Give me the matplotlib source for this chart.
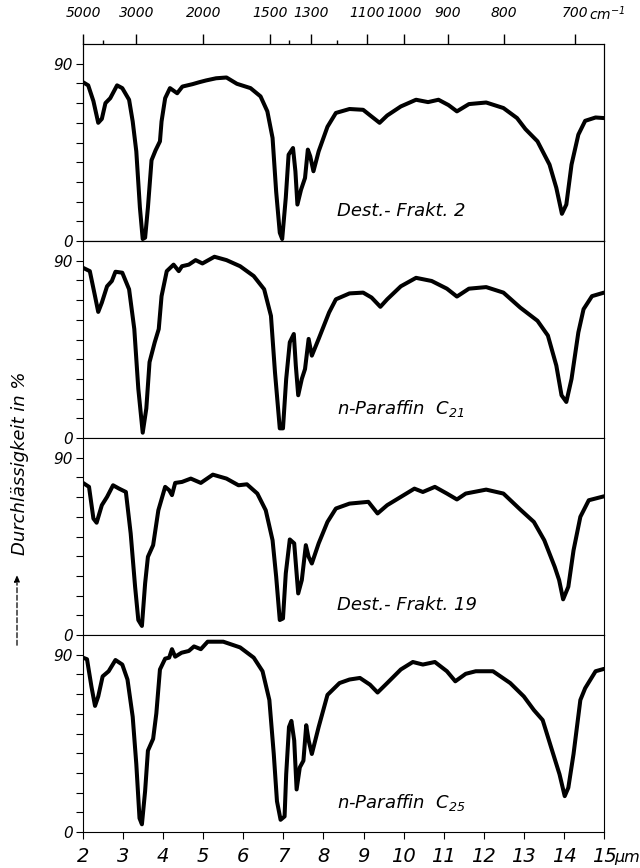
import numpy as np
import matplotlib
matplotlib.use("Agg")
import matplotlib.pyplot as plt

FONT = ["Liberation Sans Narrow", "DejaVu Sans"]
plt.rcParams["font.family"] = FONT
plt.rcParams["font.style"] = "italic"
plt.rcParams["mathtext.fontset"] = "custom"
plt.rcParams["mathtext.rm"] = "Liberation Sans Narrow:italic"
plt.rcParams["mathtext.it"] = "Liberation Sans Narrow:italic"

# --- spectra (wavelength um, transmission %) -----------------------------------
wl1 = [2.00, 2.13, 2.26, 2.38, 2.47, 2.56, 2.68, 2.85, 2.98, 3.15, 3.24, 3.33, 3.42, 3.49,
       3.55, 3.62, 3.71, 3.81, 3.92, 3.96, 4.05, 4.17, 4.35, 4.48, 4.73, 4.90, 5.07, 5.32,
       5.58, 5.84, 6.18, 6.43, 6.60, 6.73, 6.82, 6.91, 6.97, 7.06, 7.13, 7.24, 7.30, 7.35,
       7.44, 7.54, 7.61, 7.67, 7.75, 7.88, 8.10, 8.31, 8.65, 8.99, 9.20, 9.40, 9.59, 9.93,
       10.31, 10.61, 10.87, 11.12, 11.33, 11.63, 12.06, 12.49, 12.83, 13.04, 13.34, 13.64,
       13.81, 13.95, 14.06, 14.19, 14.36, 14.53, 14.79, 15.00]
t1 = [80.6, 79, 71, 60, 62, 70, 72.5, 79, 77.6, 71.7, 60.7, 45.5, 16.9, 1,
      1.7, 17, 41, 46, 50.6, 60.7, 72.5, 77.6, 75, 78.4, 79.6, 80.6, 81.5, 82.6,
      83, 79.8, 77.6, 73.4, 65.8, 52.3, 25, 4.2, 1, 22, 43.8, 47.2, 35.4, 18.5,
      26, 32, 46.4, 43, 35.4, 45.5, 58, 65, 67, 66.6, 63.2, 60, 63.7, 68.3,
      71.7, 70.5, 71.7, 69, 65.8, 69.5, 70.3, 67.5, 62.4, 56.8, 50.6, 38.8,
      27, 13.8, 18.5, 38.8, 54, 61, 62.7, 62.4]

wl2 = [2.00, 2.17, 2.30, 2.38, 2.47, 2.60, 2.72, 2.81, 2.98, 3.15, 3.28, 3.38, 3.49, 3.58,
       3.66, 3.79, 3.89, 3.96, 4.09, 4.26, 4.39, 4.47, 4.64, 4.81, 4.98, 5.28, 5.58, 5.92,
       6.26, 6.52, 6.69, 6.79, 6.91, 6.99, 7.07, 7.16, 7.26, 7.31, 7.37, 7.46, 7.54, 7.63,
       7.71, 7.88, 8.14, 8.31, 8.65, 8.99, 9.20, 9.42, 9.59, 9.93, 10.31, 10.70, 11.08,
       11.33, 11.63, 12.06, 12.49, 12.91, 13.34, 13.60, 13.81, 13.94, 14.06, 14.19, 14.36,
       14.49, 14.70, 15.00]
t2 = [86.4, 84.7, 72, 64, 68.7, 77, 79.7, 84.4, 83.9, 75.5, 55.3, 25, 2.7, 15,
      38.5, 48.6, 55.3, 72, 84.7, 88, 84.7, 87.2, 88, 90.3, 88.6, 92, 90.3, 87.2,
      82.2, 75.5, 62, 33.4, 4.9, 4.9, 30, 48.6, 52.8, 36.8, 21.7, 30, 35, 50.3,
      41.8, 50.3, 63.7, 70.4, 73.4, 73.8, 71.3, 66.6, 70.4, 77, 81.3, 79.7, 75.8,
      71.8, 75.8, 76.6, 73.8, 66.2, 59.5, 52, 36.8, 21.7, 18.3, 30, 53.6,
      65.4, 72, 73.8]

wl3 = [2.00, 2.15, 2.26, 2.34, 2.47, 2.60, 2.75, 2.90, 3.07, 3.19, 3.30, 3.38, 3.47, 3.55,
       3.62, 3.75, 3.88, 4.05, 4.15, 4.22, 4.30, 4.47, 4.69, 4.94, 5.24, 5.58, 5.88, 6.09,
       6.35, 6.56, 6.73, 6.82, 6.91, 6.99, 7.06, 7.16, 7.27, 7.37, 7.46, 7.56, 7.63, 7.71,
       7.88, 8.10, 8.31, 8.65, 9.12, 9.35, 9.59, 9.93, 10.27, 10.48, 10.78, 11.08, 11.33,
       11.55, 12.06, 12.49, 12.91, 13.25, 13.51, 13.77, 13.88, 13.98, 14.11, 14.24, 14.41,
       14.62, 15.00]
t3 = [77.2, 75.2, 59.1, 57, 65.9, 70.1, 76, 74.3, 72.6, 51.5, 24.5, 7.6, 4.6, 26.2,
      39.7, 45.6, 63.3, 75.2, 73.5, 71, 77.2, 77.7, 79.4, 77.2, 81.4, 79.4, 76, 76.5,
      71.8, 63.3, 48.1, 29.6, 7.6, 8.4, 31.3, 48.5, 46.5, 21.1, 27.9, 45.6, 39.7, 36.3,
      46.5, 57.4, 64.2, 66.7, 67.6, 61.7, 65.9, 70.1, 74.3, 72.6, 75.2, 71.8, 68.8,
      71.8, 73.8, 71.8, 63.7, 57.4, 48.1, 34.6, 27.9, 18.1, 24.5, 43, 60,
      68.4, 70.4]

wl4 = [2.00, 2.10, 2.21, 2.30, 2.38, 2.49, 2.64, 2.81, 2.98, 3.11, 3.24, 3.33, 3.41, 3.47,
       3.55, 3.62, 3.75, 3.83, 3.92, 4.05, 4.15, 4.22, 4.30, 4.46, 4.64, 4.77, 4.94, 5.11,
       5.50, 5.92, 6.26, 6.48, 6.65, 6.76, 6.84, 6.93, 7.03, 7.07, 7.14, 7.20, 7.27, 7.33,
       7.41, 7.50, 7.57, 7.63, 7.71, 7.88, 8.10, 8.40, 8.65, 8.91, 9.16, 9.35, 9.59, 9.93,
       10.23, 10.48, 10.78, 11.08, 11.29, 11.55, 11.80, 12.23, 12.66, 13.00, 13.25, 13.47,
       13.68, 13.89, 14.02, 14.11, 14.24, 14.41, 14.53, 14.79, 15.00]
t4 = [88.5, 87.7, 73.9, 64, 68.8, 79, 81.6, 87.3, 85, 77.4, 58.5, 34.5, 7, 3.9,
      20.8, 41.3, 47.3, 60.2, 82.5, 88, 88.5, 92.8, 89, 91, 91.9, 94.2, 92.8, 96.6,
      96.6, 93.7, 88.5, 81.6, 67, 39.6, 15.6, 6.2, 7.9, 29.3, 53.3, 56.4, 46.5, 21.6,
      32.8, 36.2, 54.2, 46.5, 39.6, 53.3, 69.6, 75.6, 77.4, 78.2, 74.8, 70.8, 75.6, 82.5,
      86.3, 85, 86.3, 81.6, 76.5, 80.3, 81.6, 81.6, 75.6, 68.8, 61.9, 56.8,
      43, 29.3, 18.2, 22.5, 39.6, 67, 73, 81.6, 82.8]

samples = [r"Dest.- Frakt. 2", r"n-Paraffin  $C_{21}$", r"Dest.- Frakt. 19", r"n-Paraffin  $C_{25}$"]
wavenumbers = [5000, 3000, 2000, 1500, 1300, 1100, 1000, 900, 800, 700]
wn_minor = [4000, 1400, 1200]
um_ticks = list(range(2, 16))

fig = plt.figure(figsize=(6.4, 8.68), dpi=100)
left, width = 83 / 640, (604 - 83) / 640
top, bottom = 1 - 44 / 868, 1 - 832 / 868
h = (top - bottom) / 4

axes = []
for i, (wl, t) in enumerate([(wl1, t1), (wl2, t2), (wl3, t3), (wl4, t4)]):
    ax = fig.add_axes([left, top - (i + 1) * h, width, h])
    ax.plot(wl, t, color="black", lw=2.9, solid_joinstyle="round", solid_capstyle="round")
    ax.set_xlim(2, 15)
    ax.set_ylim(0, 100)
    ax.set_yticks(range(0, 100, 10))
    ax.set_yticklabels(["0"] + [""] * 8 + ["90"])
    ax.tick_params(axis="y", direction="out", length=5, width=0.8, pad=2, labelsize=11)
    ax.set_xticks(um_ticks)
    if i < 3:
        ax.tick_params(axis="x", length=0, labelbottom=False)
    else:
        ax.tick_params(axis="x", direction="out", length=5, width=0.8, pad=6, labelsize=14)
    for s in ax.spines.values():
        s.set_linewidth(0.8)
    ax.text(8.35, 15, samples[i], fontsize=13, ha="left", va="center")
    axes.append(ax)

# wavenumber scale on top of first panel
axt = axes[0].twiny()
axt.set_xlim(2, 15)
axt.set_xticks([1e4 / w for w in wavenumbers])
axt.set_xticklabels([str(w) for w in wavenumbers])
axt.set_xticks([1e4 / w for w in wn_minor], minor=True)
axt.tick_params(axis="x", which="major", direction="out", length=7, width=1, pad=10, labelsize=10)
axt.tick_params(axis="x", which="minor", direction="out", length=3, width=1)
axt.text(14.62, 1.155, r"cm$^{-1}$", transform=axt.get_xaxis_transform(), fontsize=10,
         ha="left", va="center")

axes[-1].text(15.26, -0.13, "μm", transform=axes[-1].get_xaxis_transform(),
              fontsize=11.5, ha="left", va="center")

fig.text(20 / 640, 1 - 463 / 868, "Durchlässigkeit in %", rotation=90, fontsize=13,
         ha="center", va="center")
fig.add_artist(matplotlib.patches.FancyArrowPatch(
    (17 / 640, 1 - 648 / 868), (17 / 640, 1 - 572 / 868), transform=fig.transFigure,
    arrowstyle="-|>,head_length=4,head_width=1.6", lw=0.9, ls=(0, (4, 2)), color="black"))

fig.savefig("out.png", dpi=100)
